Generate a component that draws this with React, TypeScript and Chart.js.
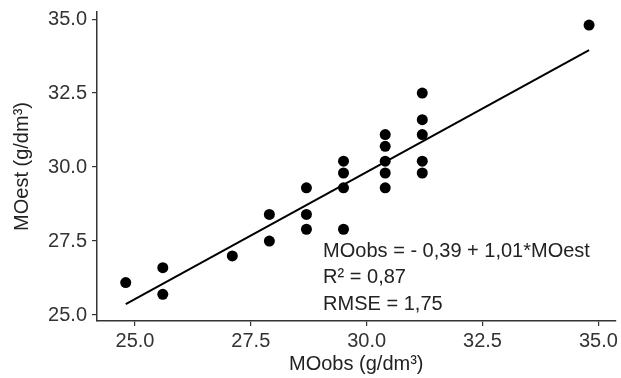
import React, { useEffect, useRef } from "react";
import { Chart, registerables } from "chart.js";

Chart.register(...registerables);

// Observed (x) vs estimated (y) values
const moObs = [24.8, 25.6, 25.6, 27.1, 27.9, 27.9, 28.7, 28.7, 28.7, 29.5, 29.5, 29.5, 29.5, 30.4, 30.4, 30.4, 30.4, 30.4, 31.2, 31.2, 31.2, 31.2, 31.2, 34.8];
const moEst = [26.1, 26.6, 25.7, 27.0, 28.4, 27.5, 29.3, 28.4, 27.9, 30.2, 29.8, 29.3, 27.9, 31.1, 30.7, 30.2, 29.8, 29.3, 32.5, 31.6, 31.1, 30.2, 29.8, 34.8];

// Fitted line end points
const fitX = [24.8, 34.8];
const fitY = [25.37, 33.95];

const xTicks = [25, 27.5, 30, 32.5, 35];
const yTicks = [25, 27.5, 30, 32.5, 35];

const xTitle = "MOobs (g/dm³)";
const yTitle = "MOest (g/dm³)";
const annotationLines = ["MOobs = - 0,39 + 1,01*MOest", "R² = 0,87", "RMSE = 1,75"];
const annotationAnchor = { x: 29.06, y: 27.15 };

const FONT = '"Liberation Sans", Arial, sans-serif';

export default function App() {
  const ref = useRef<HTMLCanvasElement | null>(null);

  useEffect(() => {
    const canvas = ref.current;
    if (!canvas) return;

    const annotationPlugin = {
      id: "annot",
      afterDatasetsDraw(chart: any) {
        const { ctx, scales } = chart;
        const x = scales.x.getPixelForValue(annotationAnchor.x);
        const y = scales.y.getPixelForValue(annotationAnchor.y);
        ctx.save();
        ctx.font = `20px ${FONT}`;
        ctx.fillStyle = "#222";
        ctx.textAlign = "left";
        ctx.textBaseline = "middle";
        annotationLines.forEach((t, i) => ctx.fillText(t, x, y + i * 26.5));
        ctx.restore();
      },
    };

    const chart = new Chart(canvas, {
      type: "scatter",
      data: {
        datasets: [
          {
            data: fitX.map((x, i) => ({ x, y: fitY[i] })),
            showLine: true,
            borderColor: "#000",
            borderWidth: 2,
            pointRadius: 0,
            pointHoverRadius: 0,
            fill: false,
          },
          {
            data: moObs.map((x, i) => ({ x, y: moEst[i] })),
            backgroundColor: "#000",
            borderColor: "#000",
            pointRadius: 5.5,
            pointHoverRadius: 5.5,
            borderWidth: 0,
          },
        ],
      },
      options: {
        responsive: false,
        animation: false,
        devicePixelRatio: 1,
        layout: { padding: { left: 10, right: 4, top: 12, bottom: 0 } },
        plugins: { legend: { display: false }, tooltip: { enabled: false } },
        scales: {
          x: {
            type: "linear",
            min: 24.18,
            max: 35.37,
            afterBuildTicks: (s: any) => {
              s.ticks = xTicks.map((v) => ({ value: v }));
            },
            afterFit: (s: any) => {
              s.height = 57;
              s.paddingLeft = 0;
              s.paddingRight = 0;
            },
            ticks: {
              color: "#333",
              font: { family: FONT, size: 20 },
              padding: 3,
              callback: (v: any) => Number(v).toFixed(1),
              maxRotation: 0,
            },
            grid: { display: true, drawOnChartArea: false, drawTicks: true, tickLength: 5, color: "#333", lineWidth: 1.2 },
            border: { display: true, color: "#333", width: 1.5 },
            title: { display: true, text: xTitle, color: "#222", font: { family: FONT, size: 20 }, padding: { top: 0, bottom: 2 } },
          },
          y: {
            type: "linear",
            min: 24.8,
            max: 35.24,
            afterBuildTicks: (s: any) => {
              s.ticks = yTicks.map((v) => ({ value: v }));
            },
            afterFit: (s: any) => {
              s.width = 87;
              s.paddingTop = 0;
              s.paddingBottom = 0;
            },
            ticks: {
              color: "#333",
              font: { family: FONT, size: 20 },
              padding: 5,
              callback: (v: any) => Number(v).toFixed(1),
            },
            grid: { display: true, drawOnChartArea: false, drawTicks: true, tickLength: 5, color: "#333", lineWidth: 1.2 },
            border: { display: true, color: "#333", width: 1.5 },
            title: { display: true, text: yTitle, color: "#222", font: { family: FONT, size: 20 }, padding: { top: 0, bottom: 0 } },
          },
        },
      },
      plugins: [annotationPlugin],
    });

    return () => chart.destroy();
  }, []);

  return (
    <div style={{ position: "fixed", left: 0, top: 0, width: 621, height: 378, background: "#fff" }}>
      <canvas ref={ref} width={621} height={378} style={{ width: 621, height: 378, display: "block" }} />
    </div>
  );
}
